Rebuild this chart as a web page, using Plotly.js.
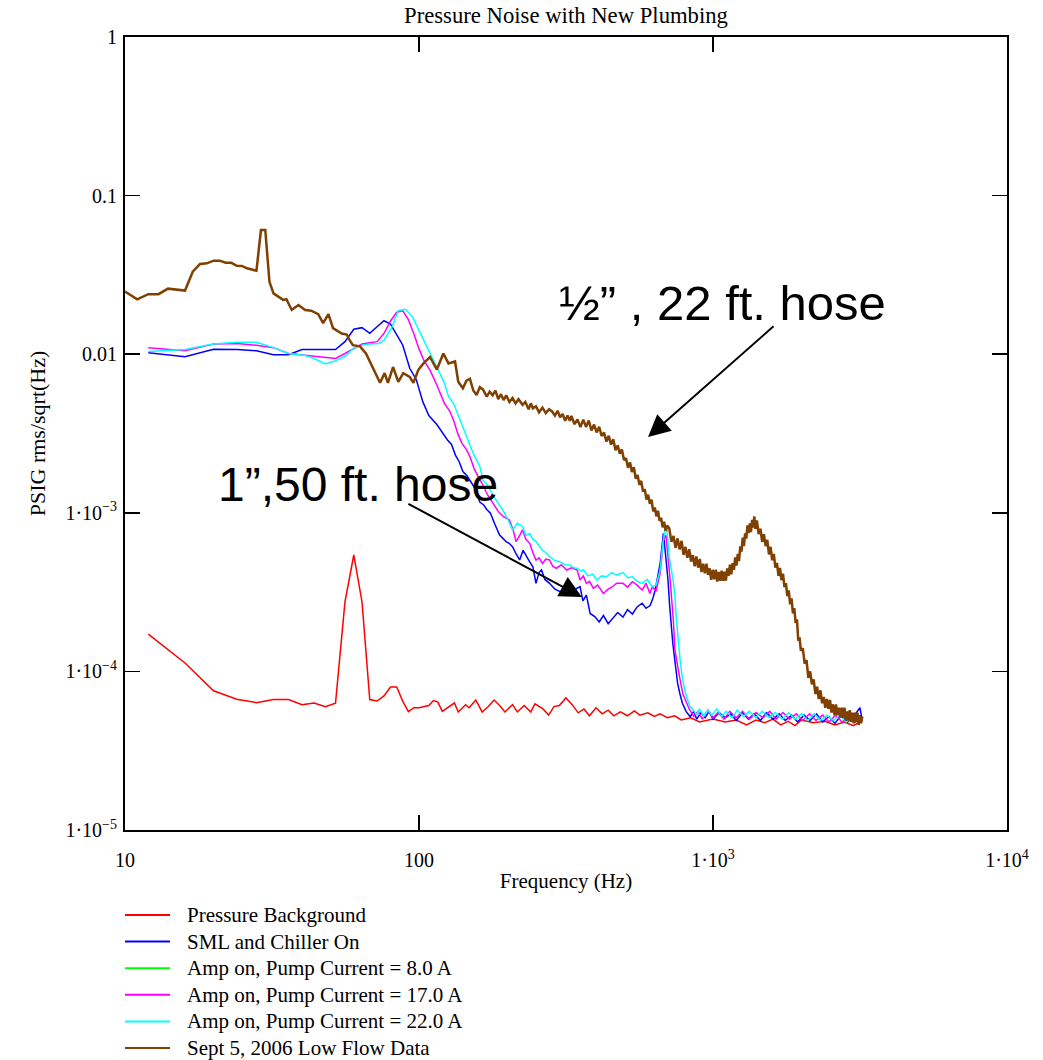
<!DOCTYPE html>
<html>
<head>
<meta charset="utf-8">
<script src="https://cdn.plot.ly/plotly-3.0.1.min.js"></script>
<style>html,body{margin:0;padding:0;background:#fff;}#chart{width:1043px;height:1060px;}</style>
</head>
<body>
<div id="chart"></div>
<script>
// ---- Data ----
const chartTitle = "Pressure Noise with New Plumbing";
const xTitle = "Frequency (Hz)";
const yTitle = "PSIG rms/sqrt(Hz)";
const seriesNames = ["Pressure Background", "SML and Chiller On", "Amp on, Pump Current = 8.0 A",
  "Amp on, Pump Current = 17.0 A", "Amp on, Pump Current = 22.0 A", "Sept 5, 2006 Low Flow Data"];
const xTickVals = [10, 100, 1000, 10000];
const xTickText = ["10", "100", "1·10<sup>3</sup>", "1·10<sup>4</sup>"];
const yTickVals = [1, 0.1, 0.01, 1e-3, 1e-4, 1e-5];
const yTickText = ["1", "0.1", "0.01", "1·10<sup>−3</sup>", "1·10<sup>−4</sup>", "1·10<sup>−5</sup>"];

const redFreq = [12,16,20,24,28,32,36,40,44,48,52,56,60,64,68,72,76,80,84,88,92,96,100,104,108,112,116,120,
  132,136,144,148,156,164,172,180,188,196,208,216,228,240,248,264,276,288,300,316,332,348,364,380,400,420,440,460,484,512,
  540,564,600,632,660,700,740,780,840,900,1000,1100,1200,1300,1400,1500,1600,1700,1800,1900,2000,2200,2400,2600,2800,3000,3200];
const redVal = [1.72e-4,1.13e-4,7.55e-5,6.67e-5,6.35e-5,6.64e-5,6.64e-5,6.17e-5,6.32e-5,6.0e-5,
  6.3e-5,2.74e-4,5.42e-4,2.74e-4,6.64e-5,6.5e-5,7.0e-5,7.97e-5,7.97e-5,6.5e-5,
  5.57e-5,5.9e-5,5.9e-5,6.0e-5,6.1e-5,6.55e-5,6.4e-5,5.6e-5,
  6.32e-5,5.55e-5,6.17e-5,5.9e-5,6.6e-5,5.55e-5,6.0e-5,6.6e-5,6.1e-5,5.55e-5,
  6.17e-5,5.55e-5,6.1e-5,5.55e-5,6.25e-5,5.8e-5,5.3e-5,6.0e-5,6.1e-5,6.8e-5,
  6.17e-5,5.48e-5,5.8e-5,5.25e-5,5.9e-5,5.4e-5,5.7e-5,5.25e-5,5.55e-5,5.25e-5,
  5.63e-5,5.3e-5,5.48e-5,5.2e-5,5.4e-5,5.1e-5,5.25e-5,4.94e-5,5.1e-5,4.8e-5,
  5.0e-5,4.8e-5,4.94e-5,4.6e-5,4.94e-5,4.75e-5,5.0e-5,4.6e-5,4.85e-5,4.55e-5,
  4.94e-5,4.75e-5,4.85e-5,4.6e-5,4.8e-5,4.55e-5,4.85e-5];

const blueFreq = [12,16,20,24,28,32,36,40,44,48,52,56,60,64,68,72,76,80,84,88,93,98,103,108,115,120,125,129,133,137,
  141,146,152,156,161,166,170,175,181,188,193,198,203,208,214,220,226,232,238,244,250,256,261,268,278,290,302,314,326,340,
  353,361,371,382,397,410,424,440,455,474,494,512,532,552,574,592,611,625,636,650,661,671,678,686,694,703,712,721,730,739,
  748,758,772,787,810,836,860,880,910,940,970,1000,1050,1100,1150,1200,1260,1320,1380,1450,1520,1600,1680,1760,1850,1940,
  2040,2140,2250,2360,2480,2600,2730,2870,3010,3160,3220];
const blueVal = [0.0102,0.00964,0.01074,0.0107,0.0105,0.00993,0.00993,0.0107,0.0107,0.0107,0.0107,0.012,0.01436,0.0147,0.01355,
  0.0149,0.01626,0.0155,0.0132,0.01143,0.00815,0.00688,0.00502,0.0041,0.0036,0.0032,0.00288,0.0027,0.00231,0.0021,
  0.00182,0.0017,0.0015,0.0014,0.00117,0.00112,0.00105,0.000993,0.00085,0.000724,0.00069,0.000657,0.00064,0.000611,0.00055,
  0.000504,0.00058,0.000529,0.00049,0.000457,0.000359,0.00042,0.000436,0.00038,0.000359,0.00033,0.000318,0.00033,0.000326,0.00033,
  0.000342,0.000278,0.000303,0.000232,0.000221,0.000205,0.000225,0.0002,0.000215,0.000235,0.00022,0.000245,0.00023,0.000255,0.000269,
  0.00025,0.00026,0.00029,0.000326,0.0004,0.00048,0.00062,0.000743,0.0006,0.00048,0.000377,0.00026,0.000182,0.00015,0.000124,
  0.0001,8.4e-5,7.2e-5,6.3e-5,5.6e-5,5.18e-5,5.6e-5,5.0e-5,5.5e-5,5.1e-5,5.6e-5,5.0e-5,5.5e-5,5.1e-5,5.4e-5,4.9e-5,5.5e-5,5.0e-5,
  5.4e-5,4.9e-5,5.5e-5,5.0e-5,5.4e-5,4.9e-5,5.3e-5,4.8e-5,5.3e-5,4.9e-5,5.4e-5,4.8e-5,5.2e-5,4.7e-5,5.3e-5,4.8e-5,5.2e-5,5.9e-5,4.9e-5];

const greenFreq = [];
const greenVal = [];

const magFreq = [12,16,20,24,28,32,36,40,44,48,52,56,60,64,68,72,76,80,84,88,92,96,100,104,109,115,122,127,131,136,
  140,145,149,154,159,164,171,178,186,194,203,209,214,220,225,231,238,244,250,256,263,270,278,285,293,305,318,330,345,353,
  362,371,380,392,405,424,440,455,470,494,512,532,552,574,592,610,621,640,661,671,678,692,703,715,724,733,742,756,773,790,
  813,830,860,890,920,960,1000,1040,1090,1140,1200,1260,1330,1400,1480,1560,1640,1730,1820,1920,2020,2130,2240,2360,2480,2610,
  2750,2900,3050,3200];
const magVal = [0.011,0.0105,0.0116,0.0117,0.0114,0.011,0.0101,0.0099,0.0098,0.0096,0.0094,0.0101,0.0109,0.0116,0.0118,0.012,
  0.0135,0.0162,0.0184,0.0188,0.0165,0.0135,0.0108,0.0091,0.00794,0.0064,0.0049,0.0044,0.00385,0.0031,
  0.00274,0.0025,0.00226,0.0019,0.00169,0.00153,0.0013,0.00115,0.00102,0.000945,0.0009,0.00078,0.000657,0.00072,0.00078,
  0.00068,0.000642,0.00056,0.000504,0.00052,0.00048,0.00051,0.000504,0.00046,0.000447,0.00047,0.000436,0.00045,0.000436,0.000377,
  0.0004,0.000359,0.00037,0.000334,0.00035,0.00031,0.00033,0.000342,0.00036,0.000359,0.00034,0.000368,0.00035,0.000326,0.00036,
  0.00031,0.000342,0.00032,0.000416,0.00054,0.000674,0.00072,0.00055,0.000377,0.00028,0.000211,0.000136,0.00011,8.83e-5,7.2e-5,
  6.3e-5,5.8e-5,5.2e-5,5.6e-5,5.0e-5,5.7e-5,5.1e-5,5.5e-5,5.0e-5,5.6e-5,5.1e-5,5.6e-5,5.0e-5,5.5e-5,5.1e-5,5.6e-5,5.0e-5,5.5e-5,
  5.0e-5,5.4e-5,4.9e-5,5.4e-5,4.9e-5,5.3e-5,4.8e-5,5.3e-5,4.8e-5,5.2e-5,4.8e-5,5.1e-5];

const cyanFreq = [12,16,20,24,28,32,36,41,44,48,52,56,60,64,68,73,76,81,85,90,95,100,104,109,113,118,122,126,131,138,
  145,153,158,161,165,171,178,186,194,201,208,216,225,231,238,244,250,256,263,270,278,290,302,314,326,336,345,354,363,375,
  390,402,418,434,452,470,494,512,532,552,574,597,621,640,661,676,686,697,710,733,742,751,762,773,783,797,813,835,857,880,
  900,930,960,990,1030,1070,1110,1160,1210,1270,1330,1400,1470,1550,1630,1720,1810,1900,2000,2100,2210,2320,2440,2570,2700,
  2840,2990,3140,3220];
const cyanVal = [0.0104,0.0107,0.0116,0.0119,0.0119,0.011,0.0101,0.0098,0.0094,0.00867,0.0091,0.0097,0.0109,0.0114,0.0116,
  0.0117,0.0122,0.0149,0.0188,0.0192,0.0172,0.0142,0.012,0.0101,0.0088,0.0076,0.0066,0.0054,0.0049,0.00385,
  0.00302,0.00236,0.0021,0.00196,0.00161,0.0015,0.0013,0.00115,0.00102,0.0009,0.00078,0.00086,0.00082,0.00072,0.00074,
  0.00068,0.00066,0.00062,0.00058,0.00056,0.00053,0.0005,0.00049,0.00047,0.000469,0.00045,0.000447,0.00043,0.000436,0.0004,
  0.00041,0.000377,0.0004,0.000395,0.00042,0.000405,0.00042,0.00039,0.000395,0.00037,0.000359,0.00038,0.000342,0.00035,0.000436,
  0.00065,0.00078,0.0008,0.00052,0.00037,0.000296,0.000211,0.00015,0.000118,9.7e-5,8.0e-5,6.9e-5,6.0e-5,5.7e-5,5.3e-5,
  5.8e-5,5.2e-5,5.7e-5,5.3e-5,5.8e-5,5.2e-5,5.6e-5,5.1e-5,5.7e-5,5.2e-5,5.6e-5,5.1e-5,5.6e-5,5.1e-5,5.5e-5,5.0e-5,5.5e-5,5.0e-5,
  5.4e-5,4.9e-5,5.4e-5,4.9e-5,5.3e-5,4.9e-5,5.3e-5,4.8e-5,5.2e-5,4.7e-5,5.0e-5];

const brownFreq = [10,11,12,13,14,16,17,18,19,20,21,22,23,24,25,26,28,29,30,31,
  32,34.5,35.4,36.9,38.9,41,43,45.4,47.2,49.2,51,54.6,56.8,58,59.6,63,66,70,73.7,76.4,
  78.4,81.6,85,88.4,93,95.7,99.6,103.6,109,115,121,126,132.6,136,141,145,149,153,157,161,
  165,170,174,178,182,186,190,194,198,203,208,213,218,225,230,236,240,244,250,256,
  263,270,277,284,290,296,302,308,314,320,326,
  330,338,346,354,362,370,378,386,394,402,410,418,426,434,442,450,458,466,474,482,
  490,498,506,514,522,530,538,546,554,562,570,578,586,594,602,610,618,626,634,642,
  650,658,666,674,682,690,698,
  710,722,734,746,758,770,782,794,806,818,830,842,854,866,878,890,902,914,926,938,
  950,962,974,986,998,1010,1022,1034,1046,1058,1070,1082,1094,1106,1118,1130,1142,1154,1166,1178,
  1190,1202,1214,1226,1238,1250,1262,1274,1286,1298,1310,1322,1334,1346,1358,1370,1382,1394,
  1410,1430,1450,1470,1490,1510,1530,1550,1570,1590,1610,1630,1650,1670,1690,1710,1730,1750,1770,1790,
  1810,1830,1850,1870,1890,1910,1930,1950,1970,1990,
  2020,2050,2080,2110,2140,2170,2200,2230,2260,2290,2320,2350,2380,2410,2440,2470,2500,2530,2560,2590,
  2620,2650,2680,2710,2740,2770,2800,2830,2860,2890,2920,2950,2980,3010,3040,3070,3100,3130,3160,3190,3220];
const brownVal = [0.0248,0.0222,0.0239,0.0239,0.0259,0.0252,0.0331,0.0371,0.0374,0.0389,0.0389,0.0377,0.0377,0.0361,0.036,0.0348,0.0336,0.0607,0.0607,0.0286,
  0.0242,0.022,0.0222,0.019,0.0204,0.019,0.0188,0.0179,0.0157,0.0179,0.0146,0.0135,0.0133,0.0123,0.0114,0.0112,0.0101,0.0081,0.0066,0.0076,
  0.0066,0.0083,0.0067,0.0076,0.0072,0.0066,0.0080,0.00875,0.0096,0.0080,0.0101,0.00875,0.0090,0.0067,0.0061,0.0068,0.0070,0.0059,0.00553,0.0062,
  0.0060,0.0054,0.0058,0.0055,0.0059,0.0052,0.0056,0.00514,0.0055,0.0050,0.0053,0.0049,0.0052,0.0048,0.0050,0.0045,0.0049,0.00456,0.0047,0.0043,
  0.0046,0.00425,0.0045,0.00434,0.0041,0.0044,0.0040,0.0042,0.0038,0.0041,0.0038,
  4.08e-3,3.62e-3,3.88e-3,3.47e-3,3.87e-3,3.48e-3,3.82e-3,3.31e-3,3.60e-3,3.21e-3,3.49e-3,3.05e-3,3.21e-3,2.81e-3,3.06e-3,2.69e-3,2.91e-3,2.48e-3,2.66e-3,2.36e-3,
  2.51e-3,2.15e-3,2.21e-3,1.92e-3,2.08e-3,1.81e-3,1.94e-3,1.64e-3,1.73e-3,1.50e-3,1.59e-3,1.36e-3,1.41e-3,1.21e-3,1.30e-3,1.14e-3,1.21e-3,1.02e-3,1.08e-3,0.95e-3,
  1.03e-3,0.89e-3,0.93e-3,0.81e-3,0.88e-3,0.77e-3,0.83e-3,
  7.99e-4,6.56e-4,7.14e-4,6.01e-4,6.90e-4,5.88e-4,6.65e-4,5.43e-4,6.10e-4,5.21e-4,5.89e-4,4.93e-4,5.41e-4,4.60e-4,5.30e-4,4.51e-4,5.12e-4,4.23e-4,4.77e-4,4.16e-4,
  4.77e-4,4.07e-4,4.46e-4,3.78e-4,4.37e-4,3.81e-4,4.38e-4,3.68e-4,4.24e-4,3.72e-4,4.32e-4,3.72e-4,4.25e-4,3.73e-4,4.46e-4,4.00e-4,4.71e-4,4.09e-4,4.82e-4,4.37e-4,
  5.24e-4,4.65e-4,5.51e-4,4.96e-4,6.15e-4,5.69e-4,6.98e-4,6.16e-4,7.42e-4,6.88e-4,8.32e-4,7.44e-4,8.56e-4,7.55e-4,9.04e-4,8.08e-4,9.48e-4,7.91e-4,
  8.96e-4,7.35e-4,7.93e-4,6.55e-4,7.33e-4,6.16e-4,6.76e-4,5.47e-4,6.10e-4,5.02e-4,5.51e-4,4.51e-4,4.83e-4,4.00e-4,4.49e-4,3.76e-4,4.14e-4,3.40e-4,3.60e-4,2.98e-4,
  3.24e-4,2.65e-4,2.89e-4,2.32e-4,2.51e-4,2.02e-4,2.13e-4,1.56e-4,1.64e-4,1.35e-4,
  1.40e-4,1.12e-4,1.18e-4,0.91e-4,1.00e-4,0.83e-4,0.89e-4,0.72e-4,0.80e-4,0.67e-4,0.76e-4,0.63e-4,0.69e-4,0.59e-4,0.67e-4,0.58e-4,0.66e-4,0.55e-4,0.62e-4,0.53e-4,
  0.62e-4,0.53e-4,0.59e-4,0.51e-4,0.59e-4,0.51e-4,0.59e-4,0.49e-4,0.56e-4,0.49e-4,0.57e-4,0.48e-4,0.55e-4,0.47e-4,0.55e-4,0.48e-4,0.55e-4,0.46e-4,0.53e-4,0.47e-4,0.52e-4];

const seriesColors = ["#ff0000", "#0000ff", "#00ff00", "#ff00ff", "#00ffff", "#804000"];
const seriesWidths = [1.5, 1.5, 1.5, 1.5, 1.5, 2.5];

const annoText1 = "½” , 22 ft. hose";
const annoText2 = "1”,50 ft. hose";

// ---- Build figure ----
const serif = "Liberation Serif, Times New Roman, serif";
const sans = "Liberation Sans, Arial, sans-serif";
const W = 1043, H = 1060, ML = 125, MR = 36, MT = 37, MB = 230;
const plotW = W - ML - MR, plotH = H - MT - MB;
const xs = [redFreq, blueFreq, greenFreq, magFreq, cyanFreq, brownFreq];
const ys = [redVal, blueVal, greenVal, magVal, cyanVal, brownVal];
const traces = seriesNames.map((n, i) => ({
  type: "scatter", mode: "lines", name: n, x: xs[i], y: ys[i], showlegend: false,
  line: {color: seriesColors[i], width: seriesWidths[i]}
}));

// Legend drawn below the plot (paper coordinates), one row per series
const legendTop = 915, legendStep = 26.6, legendLineX0 = 125, legendLineX1 = 170, legendTextX = 185;
const px2paperX = px => (px - ML) / plotW;
const px2paperY = py => (H - MB - py) / plotH;
const legendShapes = seriesNames.map((n, i) => ({
  type: "line", xref: "paper", yref: "paper",
  x0: px2paperX(legendLineX0), x1: px2paperX(legendLineX1),
  y0: px2paperY(legendTop + i * legendStep), y1: px2paperY(legendTop + i * legendStep),
  line: {color: seriesColors[i], width: 2}
}));
const legendTexts = seriesNames.map((n, i) => ({
  text: n, xref: "paper", yref: "paper", x: px2paperX(legendTextX), y: px2paperY(legendTop + i * legendStep),
  xanchor: "left", yanchor: "middle", showarrow: false, font: {family: serif, size: 21, color: "#000"}
}));

const layout = {
  width: W, height: H,
  paper_bgcolor: "#fff", plot_bgcolor: "#fff",
  margin: {l: ML, r: MR, t: MT, b: MB},
  font: {family: serif, color: "#000", size: 20},
  title: {text: chartTitle, font: {family: serif, size: 22.7, color: "#000"},
          x: 0.5, xref: "paper", y: 1 - 15/H, yref: "container", yanchor: "middle"},
  showlegend: false,
  xaxis: {type: "log", range: [1, 4], tickmode: "array", tickvals: xTickVals, ticktext: xTickText,
          ticks: "inside", ticklen: 15, tickwidth: 1.5, tickcolor: "#000",
          showline: true, linecolor: "#000", linewidth: 2, mirror: "ticks", showgrid: false, zeroline: false,
          tickfont: {family: serif, size: 20, color: "#000"}, ticklabelstandoff: 11,
          title: {text: xTitle, font: {family: serif, size: 21, color: "#000"}, standoff: 3}},
  yaxis: {type: "log", range: [-5, 0], tickmode: "array", tickvals: yTickVals, ticktext: yTickText,
          ticks: "inside", ticklen: 15, tickwidth: 1.5, tickcolor: "#000",
          showline: true, linecolor: "#000", linewidth: 2, mirror: "ticks", showgrid: false, zeroline: false,
          tickfont: {family: serif, size: 20, color: "#000"}, ticklabelstandoff: 2,
          title: {text: yTitle, font: {family: serif, size: 22, color: "#000"}, standoff: 14}},
  shapes: legendShapes,
  annotations: [
    {text: annoText1, xref: "paper", yref: "paper", x: 0.678, y: 0.664, showarrow: false,
     font: {family: sans, size: 49, color: "#000"}, xanchor: "center", yanchor: "middle"},
    {text: annoText2, xref: "paper", yref: "paper", x: 0.2647, y: 0.4356, showarrow: false,
     font: {family: sans, size: 48, color: "#000"}, xanchor: "center", yanchor: "middle"},
    {text: "", xref: "paper", yref: "paper", x: 0.593, y: 0.4956, showarrow: true,
     axref: "pixel", ayref: "pixel", ax: 127, ay: -112, arrowhead: 2, arrowsize: 2.2, arrowwidth: 2, arrowcolor: "#000", standoff: 0},
    {text: "", xref: "paper", yref: "paper", x: 0.518, y: 0.2938, showarrow: true,
     axref: "pixel", ayref: "pixel", ax: -175, ay: -94, arrowhead: 2, arrowsize: 2.2, arrowwidth: 2, arrowcolor: "#000", standoff: 0}
  ].concat(legendTexts)
};

Plotly.newPlot("chart", traces, layout, {displayModeBar: false, staticPlot: true});
</script>
</body>
</html>
